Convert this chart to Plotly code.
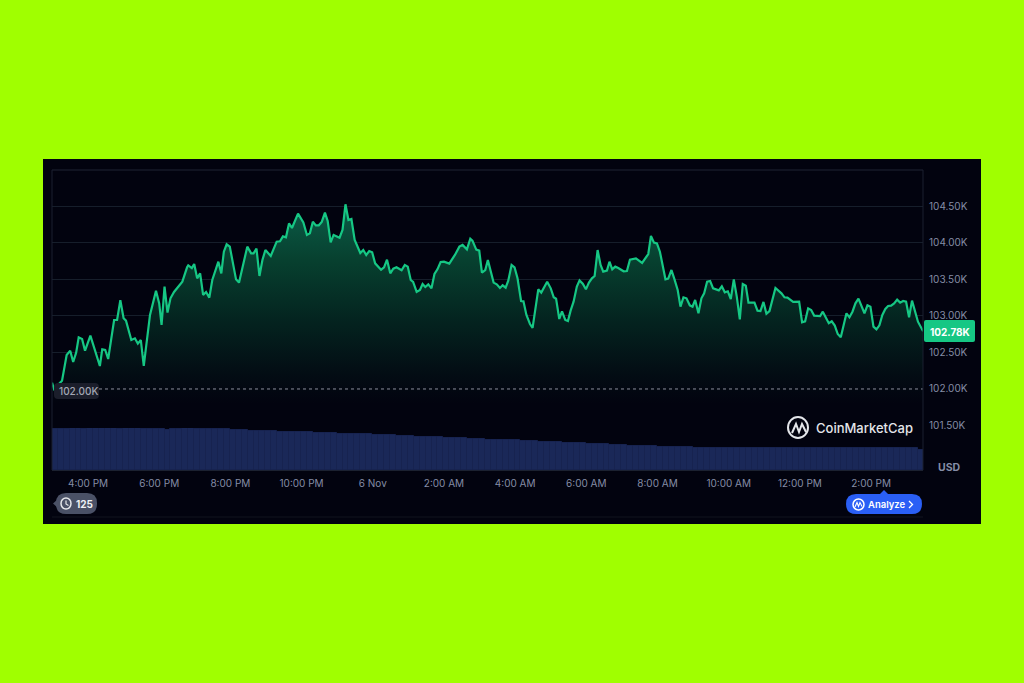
import plotly.graph_objects as go

minutes = [-60.7,-57.3,-43.8,-36,-30,-25,-20,-15.7,-10,-5,4,12,20,24,29,34,44,49,54.5,60,64,73,79,84,89,94,104.5,114.6,120,124,129,134,139,145,159,167,169,175,179,184,189,194,199,204.5,209.5,219.7,224.7,229,233.7,239,249.5,254.5,262,268.5,275,279,284,289,294,299,308,318,323.6,328.6,333.7,338.8,343.8,354,363,369,374,379,384,389,394,399.4,404,409,414,419,424,429,434,439,444,449.5,459,464,469,474,
479,484,494,499,504,509.5,514.6,520,528.6,534,539,544,548,554,559.5,564,568.5,573.6,579,584,589,594.4,600,609,618.5,626,631.4,638.7,644.4,648,654.5,659.5,664,669.6,674,683.7,689,694.4,698.9,704,708.4,714,719,724,730,734,739,745,749.4,759,764,774,780,785,789,794.4,799,804.5,809,813.5,818.5,824,828.6,834,839.3,844.4,849.4,854,859,864,868.5,874.7,879,883.7,888.7,893.8,902.8,908.4,913.5,923.6,934,944.4,948.9,954,959,964,
969.5,973.4,978,983.5,988.6,994,998.7,1003.7,1008.8,1014.4,1019,1023.4,1029,1034,1038.6,1043.6,1048.7,1053.7,1063.3,1068.4,1073.4,1078.5,1083.5,1088.6,1093.6,1098.7,1103.7,1108.8,1113.3,1123.4,1128.5,1133.5,1138.6,1143.6,1148.7,1158.8,1168.9,1174,1179,1188.6,1198.7,1203.7,1208.8,1213.9,1219,1224,1234,1238.6,1248.7,1253.7,1258.8,1263.8,1268.9,1278.5,1283.5,1288.6,1293.6,1298.7,1308.8,1313.9,1318.9,1324,1329,1334,1339,1344,1348.7,1353.7,1358.8,1363.9,1369,1374,1379,1384,1389,1394,1399,1407.7]
prices = [102087,102000,102114,102466,102525,102370,102498,102708,102685,102525,102731,102534,102315,102543,102534,102411,102945,102945,103215,102968,102936,102671,102694,102621,102671,102315,103014,103347,103173,102877,103402,103046,103242,103329,103470,103667,103694,103657,103712,103516,103584,103288,103329,103251,103493,103744,103584,103881,103982,103950,103502,103457,103744,103950,103858,103858,103922,103548,103767,103904,103822,104018,104023,104091,104078,104269,104205,104402,104283,104110,104132,104292,104242,104242,104288,104415,104301,104009,104110,104087,104073,104178,104530,104315,104329,104041,103863,103904,103836,103890,
103872,103721,103635,103667,103772,103584,103648,103667,103626,103699,103676,103493,103466,103329,103356,103438,103397,103434,103379,103575,103639,103740,103744,103717,103836,103950,103973,103913,104059,104032,103909,103895,103594,103630,103767,103457,103434,103384,103420,103388,103484,103699,103667,103516,103205,103201,103014,102890,102836,103365,103320,103470,103379,103256,103237,102959,103064,102945,102931,103073,103196,103402,103488,103443,103365,103457,103516,103548,103904,103699,103607,103621,103744,103639,103676,103657,103612,103616,103772,103790,103726,103849,104096,104005,103995,103881,
103653,103502,103511,103630,103502,103356,103128,103256,103242,103146,103128,103219,103037,103242,103310,103470,103479,103379,103351,103406,103324,103338,103233,103502,103265,102954,103438,103415,103183,103183,103073,103068,103192,103032,103068,103384,103310,103256,103251,103192,103196,102913,102927,103105,103082,103005,103000,103059,102900,102927,102868,102753,102708,103037,102982,103059,103173,103237,103037,103146,103128,102854,102817,102872,103014,103096,103137,103142,103173,103224,103183,103205,103196,102982,103210,103082,102922,102790]

volume = [41.5,41.5,41.5,41.6,41.6,41.5,41.6,41.9,42,41.8,41.6,41.4,41.6,41.7,41.6,41.5,41.5,41.3,41,40.5,41,41.4,41.7,41.6,41.3,41,41,41.1,40.9,40.7,40.3,40,39.7,39.3,39.2,39.2,39,38.9,38.5,38.4,38.2,38,37.8,37.8,37.5,37.2,37,36.7,36.4,36.2,
36,36,35.9,35.6,35.2,35,34.8,34.6,34.2,34,33.7,33.4,33.2,33,32.9,32.7,32.5,32.3,32,31.8,31.4,31,30.8,30.5,30.3,30.1,30,29.8,29.6,29.2,29,28.7,28.4,28.2,28,27.8,27.5,27.2,27,26.7,26.4,26.1,25.9,25.6,25.2,25,24.7,24.4,24.2,24,
23.8,23.6,23.4,23.2,23,22.9,22.8,22.6,22.5,22.4,22.3,22.2,22.2,22.1,22,22,22.1,22.2,22,22,21.9,22,22.1,22,22,22.1,22.2,22,22.2,22.1,22,22,22.2,22.3,22.1,22,22.1,22.2,22.2,22,22.1,22,22.1,22.2,22,21.8,20]
volume_minutes = [-56 + 10 * i for i in range(len(volume))]

x_ticks = [0,120,240,360,480,600,720,840,960,1080,1200,1320]
x_labels = ["4:00 PM","6:00 PM","8:00 PM","10:00 PM","6 Nov","2:00 AM","4:00 AM","6:00 AM","8:00 AM","10:00 AM","12:00 PM","2:00 PM"]
y_ticks = [101500,102000,102500,103000,103500,104000,104500]
y_labels = ["101.50K","102.00K","102.50K","103.00K","103.50K","104.00K","104.50K"]

FONT = "Inter"
GRAY = "#858da6"
BG = "#02030f"
L, R, T, B = 52, 923, 170, 470
px = lambda x: (x - L) / (R - L)
py = lambda y: 1 - (y - T) / (B - T)

def rect(x0, y0, x1, y1, color, r=0):
    p = (f"M{px(x0+r)},{py(y0)} L{px(x1-r)},{py(y0)} Q{px(x1)},{py(y0)} {px(x1)},{py(y0+r)} "
         f"L{px(x1)},{py(y1-r)} Q{px(x1)},{py(y1)} {px(x1-r)},{py(y1)} L{px(x0+r)},{py(y1)} "
         f"Q{px(x0)},{py(y1)} {px(x0)},{py(y1-r)} L{px(x0)},{py(y0+r)} Q{px(x0)},{py(y0)} {px(x0+r)},{py(y0)} Z")
    return dict(type="path", xref="paper", yref="paper", path=p, fillcolor=color, line=dict(width=0), layer="above")

def tri(a, b, c, color):
    p = f"M{px(a[0])},{py(a[1])} L{px(b[0])},{py(b[1])} L{px(c[0])},{py(c[1])} Z"
    return dict(type="path", xref="paper", yref="paper", path=p, fillcolor=color, line=dict(width=0), layer="above")

def note(x, y, text, size=11, color=GRAY, weight=400, anchor="left"):
    return dict(xref="paper", yref="paper", x=px(x), y=py(y), text=text, showarrow=False, xanchor=anchor,
                yanchor="middle", font=dict(family=FONT, size=size, color=color, weight=weight))

fig = go.Figure()
fig.add_trace(go.Bar(x=volume_minutes, y=volume, yaxis="y2",
                     marker=dict(color="#1a2858", line=dict(width=1, color="#172350")),
                     width=10, hoverinfo="skip"))
fig.add_trace(go.Scatter(x=minutes, y=prices, mode="lines", line=dict(color="#16c784", width=2.2),
                         fill="tozeroy",
                         fillgradient=dict(type="vertical", start=104600, stop=101800,
                                           colorscale=[[0, "#0b5f4a"], [0.3, "#07402f"], [0.6, "#04231f"], [0.85, "#030d14"], [1, "#02030f"]]),
                         hoverinfo="skip"))

shapes = [
    dict(type="rect", xref="paper", yref="paper", x0=px(43), x1=px(981), y0=py(159), y1=py(524),
         fillcolor=BG, line=dict(width=0), layer="below"),
    dict(type="line", xref="paper", yref="y", x0=px(99), x1=1, y0=102000, y1=102000,
         line=dict(color="#8b8f9c", width=1, dash="dot"), layer="above"),
    dict(type="line", xref="paper", yref="paper", x0=0, x1=1, y0=1, y1=1, line=dict(color="#1f2534", width=1)),
    dict(type="line", xref="paper", yref="paper", x0=0, x1=0, y0=0, y1=1, line=dict(color="#1b2130", width=1)),
    dict(type="line", xref="paper", yref="paper", x0=1, x1=1, y0=0, y1=1, line=dict(color="#1b2130", width=1)),
    dict(type="line", xref="paper", yref="paper", x0=px(52), x1=px(923), y0=py(517), y1=py(517), line=dict(color="#10141f", width=1)),
    rect(54, 383, 99, 399, "#1b1e2b", 4),
    rect(924, 320, 975, 342, "#16c784", 2),
    rect(56, 493, 97, 514, "#4a5166", 10),
    tri((53, 503.5), (58, 499), (58, 508), "#4a5166"),
    rect(846, 494, 922, 514, "#2a5ff5", 10),
    tri((880, 494), (884, 490), (888, 494), "#2a5ff5"),
    dict(type="circle", xref="paper", yref="paper", x0=px(788), x1=px(808), y0=py(417), y1=py(438),
         line=dict(color="#e4e6ea", width=2), layer="above"),
    dict(type="path", xref="paper", yref="paper", layer="above", line=dict(color="#e4e6ea", width=2),
         path=f"M{px(792)},{py(433)} L{px(796)},{py(424)} L{px(799)},{py(432)} L{px(802)},{py(424)} L{px(806)},{py(432)}"),
    dict(type="circle", xref="paper", yref="paper", x0=px(61), x1=px(71), y0=py(498), y1=py(509),
         line=dict(color="#e4e6ea", width=1.5), layer="above"),
    dict(type="path", xref="paper", yref="paper", layer="above", line=dict(color="#e4e6ea", width=1.2),
         path=f"M{px(66)},{py(500.5)} L{px(66)},{py(504)} L{px(68.5)},{py(505.5)}"),
    dict(type="circle", xref="paper", yref="paper", x0=px(853), x1=px(864), y0=py(499), y1=py(510),
         line=dict(color="#ffffff", width=1.5), layer="above"),
    dict(type="path", xref="paper", yref="paper", layer="above", line=dict(color="#ffffff", width=1.1),
         path=f"M{px(855)},{py(507)} L{px(857)},{py(502.5)} L{px(858.5)},{py(506.5)} L{px(860)},{py(502.5)} L{px(862)},{py(506.5)}"),
    dict(type="path", xref="paper", yref="paper", layer="above", line=dict(color="#ffffff", width=1.3),
         path=f"M{px(909)},{py(501)} L{px(912.5)},{py(504.5)} L{px(909)},{py(508)}"),
]

annotations = [
    note(57, 391, "102.00K", 10, "#a3a8b5", 500),
    note(928, 331.5, "102.78K", 10, "#ffffff", 700),
    note(936, 467, "USD", 10.5, GRAY, 700),
    note(74, 503.5, "125", 10, "#eef0f4", 700),
    note(866, 504, "Analyze", 9.5, "#ffffff", 600),
    note(814, 428, "CoinMarketCap", 13, "#e4e6ea", 500),
]

fig.update_layout(
    width=1024, height=683, margin=dict(l=L, r=1024 - R, t=T, b=683 - B),
    paper_bgcolor="#a0ff00", plot_bgcolor=BG, showlegend=False, bargap=0,
    font=dict(family=FONT, size=10, color=GRAY), shapes=shapes, annotations=annotations,
    xaxis=dict(range=[-60.7, 1407.5], tickmode="array", tickvals=x_ticks, ticktext=x_labels, showgrid=False,
               zeroline=False, showline=True, linecolor="#1b2130", ticks="outside", ticklen=4,
               tickcolor="rgba(0,0,0,0)", tickfont=dict(family=FONT, size=10, color=GRAY), anchor="y2"),
    yaxis=dict(domain=[0, 1], range=[100890, 105000], side="right", tickmode="array", tickvals=y_ticks,
               ticktext=y_labels, showgrid=True, gridcolor="#161e2b", gridwidth=1, zeroline=False,
               ticks="outside", ticklen=3, tickcolor="rgba(0,0,0,0)",
               tickfont=dict(family=FONT, size=10, color=GRAY)),
    yaxis2=dict(domain=[0, 0.14], range=[0, 42], showgrid=False, zeroline=False, showticklabels=False, side="right"),
)

fig.write_html("out.html", config={"displayModeBar": False},
               post_script="document.body.style.margin='0';document.documentElement.style.overflow='hidden';")
